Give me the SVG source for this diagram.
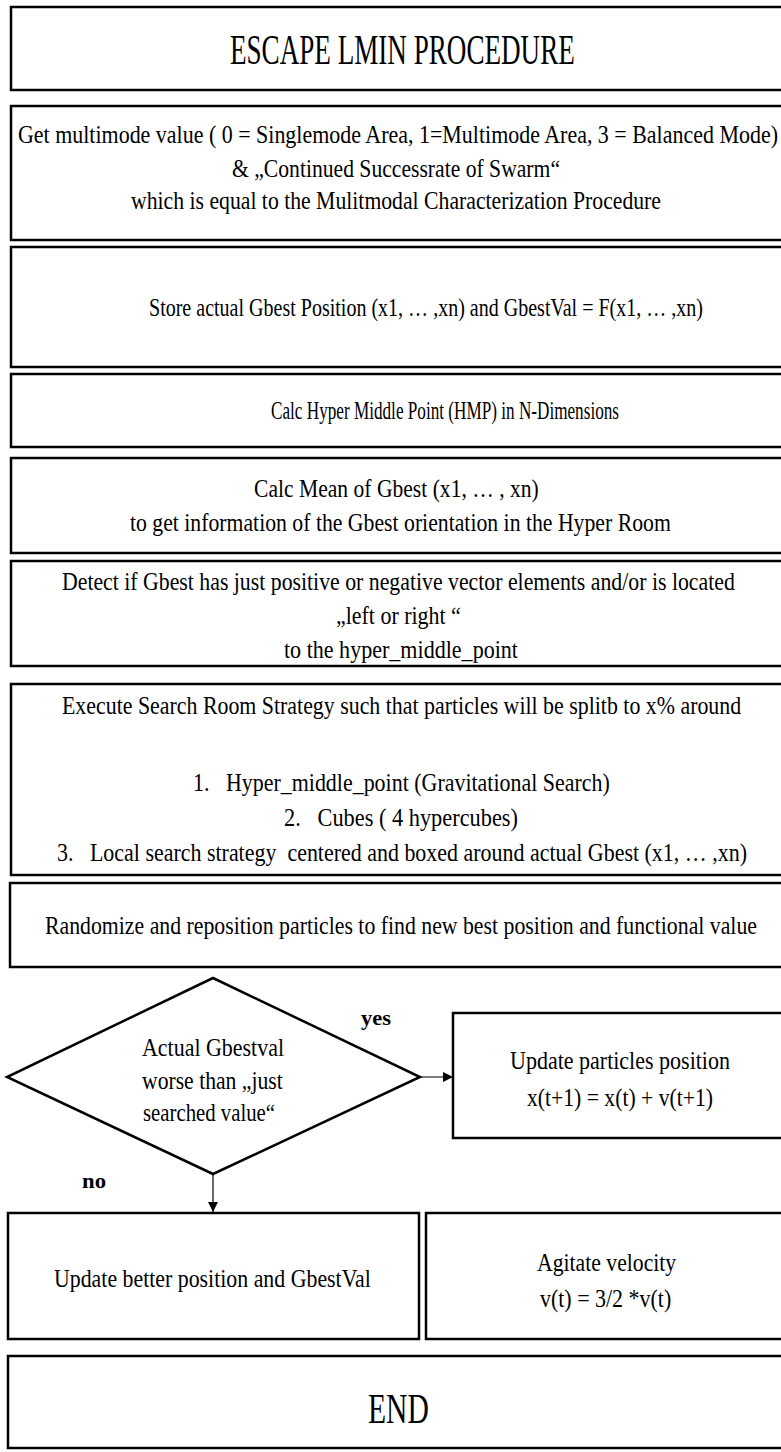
<svg xmlns="http://www.w3.org/2000/svg" width="781" height="1452" viewBox="0 0 781 1452">
<style>
.box{fill:#fff;stroke:#000;stroke-width:2.5}
.t{font-family:"Liberation Serif","Times New Roman",serif;font-size:26px;fill:#000}
.big{font-size:42px}
.lbl{font-family:"Liberation Serif","Times New Roman",serif;font-size:22px;font-weight:bold;fill:#000}
.conn{stroke:#000;stroke-width:1.2;fill:none}
</style>
<defs>
<marker id="ah" viewBox="0 0 10 10" refX="10" refY="5" markerWidth="10" markerHeight="11" markerUnits="userSpaceOnUse" orient="auto">
<path d="M0,0 L10,5 L0,10 Z" fill="#000"/>
</marker>
<marker id="ahd" viewBox="0 0 10 10" refX="10" refY="5" markerWidth="13" markerHeight="10" markerUnits="userSpaceOnUse" orient="auto">
<path d="M0,0 L10,5 L0,10 Z" fill="#000"/>
</marker>
</defs>
<rect width="781" height="1452" fill="#fff"/>

<g id="n-title">
<rect class="box" x="11" y="7" width="790" height="83"/>
<text class="t big" transform="scale(0.8 1)" x="287.5" y="64" textLength="431" lengthAdjust="spacingAndGlyphs">ESCAPE LMIN PROCEDURE</text>
</g>

<g id="n-multimode">
<rect class="box" x="11" y="106" width="790" height="134"/>
<text class="t" transform="scale(0.8 1)" x="22.5" y="143" textLength="950" lengthAdjust="spacingAndGlyphs">Get multimode value ( 0 = Singlemode Area, 1=Multimode Area, 3 = Balanced Mode)</text>
<text class="t" transform="scale(0.8 1)" x="290" y="177" textLength="410" lengthAdjust="spacingAndGlyphs">&amp;  „Continued Successrate of Swarm“</text>
<text class="t" transform="scale(0.8 1)" x="163.75" y="209" textLength="662.5" lengthAdjust="spacingAndGlyphs">which is equal to the Mulitmodal Characterization Procedure</text>
</g>

<g id="n-store">
<rect class="box" x="11" y="247" width="790" height="120"/>
<text class="t" transform="scale(0.8 1)" x="186.25" y="316" textLength="692.5" lengthAdjust="spacingAndGlyphs">Store actual Gbest Position (x1, … ,xn) and GbestVal = F(x1, … ,xn)</text>
</g>

<g id="n-hmp">
<rect class="box" x="11" y="374" width="790" height="73"/>
<text class="t" transform="scale(0.8 1)" x="338.75" y="419" textLength="435" lengthAdjust="spacingAndGlyphs">Calc Hyper Middle Point (HMP)  in N-Dimensions</text>
</g>

<g id="n-mean">
<rect class="box" x="11" y="458" width="790" height="95"/>
<text class="t" transform="scale(0.8 1)" x="317.5" y="497" textLength="356" lengthAdjust="spacingAndGlyphs">Calc Mean of Gbest (x1, … , xn)</text>
<text class="t" transform="scale(0.8 1)" x="162.5" y="531" textLength="676" lengthAdjust="spacingAndGlyphs">to get information of the Gbest orientation in the Hyper Room</text>
</g>

<g id="n-detect">
<rect class="box" x="11" y="561" width="790" height="105"/>
<text class="t" transform="scale(0.8 1)" x="77.5" y="590" textLength="841" lengthAdjust="spacingAndGlyphs">Detect if Gbest has just positive or negative vector elements and/or is located</text>
<text class="t" transform="scale(0.8 1)" x="420" y="624" textLength="156" lengthAdjust="spacingAndGlyphs">„left or right “</text>
<text class="t" transform="scale(0.8 1)" x="355" y="658" textLength="292.5" lengthAdjust="spacingAndGlyphs">to the hyper_middle_point</text>
</g>

<g id="n-strategy">
<rect class="box" x="11" y="684" width="790" height="191"/>
<text class="t" transform="scale(0.8 1)" x="77.5" y="714" textLength="849" lengthAdjust="spacingAndGlyphs">Execute Search Room Strategy such that particles will be splitb to x% around</text>
<text class="t" transform="scale(0.8 1)" x="241.25" y="791" textLength="521" xml:space="preserve" lengthAdjust="spacingAndGlyphs">1.   Hyper_middle_point (Gravitational Search)</text>
<text class="t" transform="scale(0.8 1)" x="355" y="826" textLength="292.5" xml:space="preserve" lengthAdjust="spacingAndGlyphs">2.   Cubes ( 4 hypercubes)</text>
<text class="t" transform="scale(0.8 1)" x="71.25" y="861" textLength="862.5" xml:space="preserve" lengthAdjust="spacingAndGlyphs">3.   Local search strategy  centered and boxed around actual Gbest (x1, … ,xn)</text>
</g>

<g id="n-randomize">
<rect class="box" x="10" y="883" width="790" height="84"/>
<text class="t" transform="scale(0.8 1)" x="56.25" y="934" textLength="890" lengthAdjust="spacingAndGlyphs">Randomize and reposition particles to find new best position and functional value</text>
</g>

<g id="n-decision">
<polygon class="box" points="213,978 420,1077 213,1174 7,1077"/>
<text class="t" transform="scale(0.8 1)" x="177.5" y="1056" textLength="177.5" lengthAdjust="spacingAndGlyphs">Actual Gbestval</text>
<text class="t" transform="scale(0.8 1)" x="177.5" y="1089" textLength="176" lengthAdjust="spacingAndGlyphs">worse than „just</text>
<text class="t" transform="scale(0.8 1)" x="178.75" y="1121" textLength="165" lengthAdjust="spacingAndGlyphs">searched value“</text>
</g>

<g id="n-update-pos">
<rect class="box" x="453" y="1013" width="340" height="125"/>
<text class="t" transform="scale(0.8 1)" x="637.5" y="1069" textLength="275" lengthAdjust="spacingAndGlyphs">Update particles position</text>
<text class="t" transform="scale(0.8 1)" x="658.75" y="1106" textLength="232.5" lengthAdjust="spacingAndGlyphs">x(t+1) = x(t) + v(t+1)</text>
</g>

<g id="n-update-best">
<rect class="box" x="8" y="1213" width="411" height="126"/>
<text class="t" transform="scale(0.8 1)" x="67.5" y="1287" textLength="396" lengthAdjust="spacingAndGlyphs">Update better position and GbestVal</text>
</g>

<g id="n-agitate">
<rect class="box" x="426" y="1213" width="370" height="126"/>
<text class="t" transform="scale(0.8 1)" x="671.25" y="1271" textLength="174" lengthAdjust="spacingAndGlyphs">Agitate velocity</text>
<text class="t" transform="scale(0.8 1)" x="675" y="1307" textLength="164" lengthAdjust="spacingAndGlyphs">v(t) = 3/2 *v(t)</text>
</g>

<g id="n-end">
<rect class="box" x="8" y="1356" width="790" height="92"/>
<text class="t big" transform="scale(0.8 1)" x="460" y="1423" textLength="76" lengthAdjust="spacingAndGlyphs">END</text>
</g>

<g id="connectors">
<line class="conn" x1="420" y1="1077" x2="453" y2="1077" marker-end="url(#ah)"/>
<line class="conn" x1="213" y1="1174" x2="213" y2="1212" marker-end="url(#ahd)"/>
<text class="lbl" transform="scale(0.8 1)" x="451.25" y="1025" textLength="37.5" lengthAdjust="spacingAndGlyphs">yes</text>
<text class="lbl" transform="scale(0.8 1)" x="102.5" y="1188" textLength="30" lengthAdjust="spacingAndGlyphs">no</text>
</g>
</svg>
